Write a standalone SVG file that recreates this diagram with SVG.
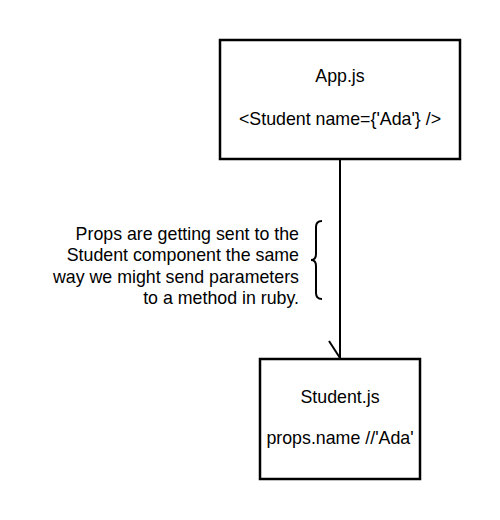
<svg xmlns="http://www.w3.org/2000/svg" width="500" height="520" viewBox="0 0 500 520">
<style>
.box{fill:#fff;stroke:#000;stroke-width:2.5}
.t{font-family:"Liberation Sans",Arial,sans-serif;font-size:17.8px;fill:#000}
.c{text-anchor:middle}
.r{text-anchor:end}
.ln{fill:none;stroke:#000;stroke-width:2}
</style>
<rect width="500" height="520" fill="#fff"/>
<g id="connectors">
<line class="ln" x1="340" y1="160" x2="340" y2="358"/>
<line class="ln" x1="329" y1="341" x2="340" y2="358"/>
</g>
<g id="app">
<rect class="box" x="220" y="40" width="240" height="119"/>
<text class="t c" x="340" y="82">App.js</text>
<text class="t c" x="340" y="125">&lt;Student name={'Ada'} /&gt;</text>
</g>
<g id="student">
<rect class="box" x="260" y="359" width="160" height="120"/>
<text class="t c" x="340" y="403">Student.js</text>
<text class="t c" x="340" y="444">props.name //'Ada'</text>
</g>
<g id="note">
<text class="t r" x="299" y="240">Props are getting sent to the</text>
<text class="t r" x="299" y="261">Student component the same</text>
<text class="t r" x="299" y="283">way we might send parameters</text>
<text class="t r" x="299" y="304">to a method in ruby.</text>
<path class="ln" d="M322,221 Q316,221 316,227 L316,254 Q316,260 311,260 Q316,260 316,266 L316,293 Q316,299 322,299" stroke-width="1.8"/>
</g>
</svg>
